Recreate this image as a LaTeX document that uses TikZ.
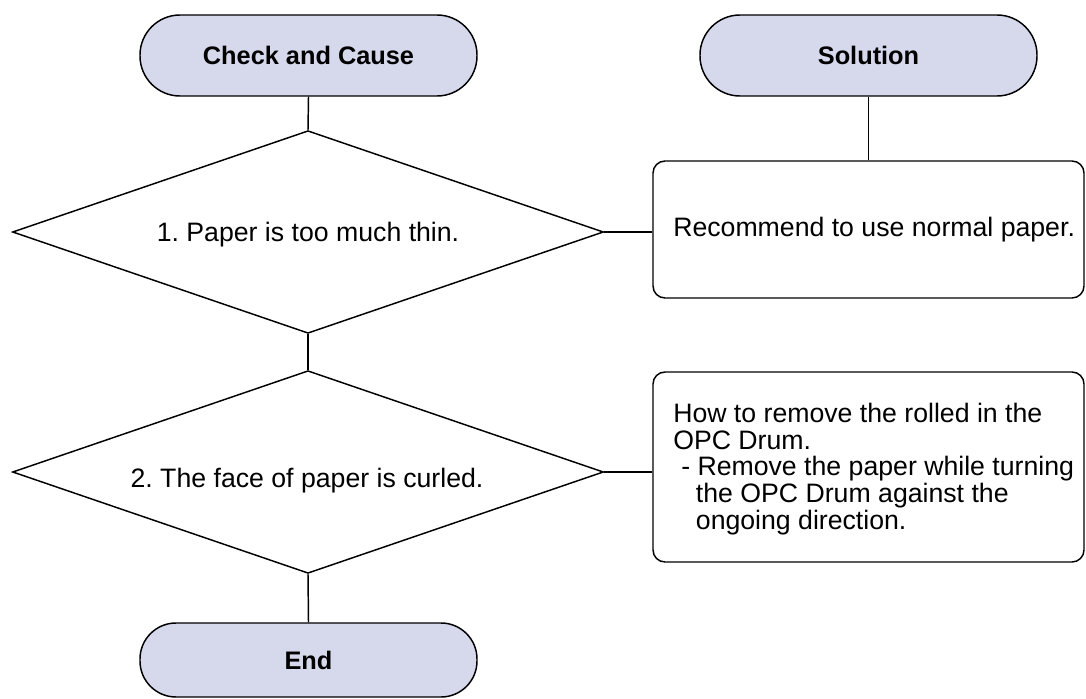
\documentclass[tikz,border=0pt]{standalone}
\usepackage{fontspec}
\setmainfont{Liberation Sans}
\frenchspacing
\usetikzlibrary{shapes.geometric}
\definecolor{pillfill}{RGB}{214,216,236}
\begin{document}
\begin{tikzpicture}[x=0.75pt,y=-0.75pt,
  every node/.style={font=\fontsize{20}{20}\selectfont},
  pill/.style={draw=black,line width=1.1pt,fill=pillfill,rounded corners=30pt,
    minimum width=252.75pt,minimum height=60.75pt,inner sep=0pt,
    font=\fontsize{19}{20}\selectfont\bfseries},
  decision/.style={draw=black,line width=1.1pt,diamond,inner sep=0pt,
    minimum width=443.25pt,minimum height=152pt},
  solbox/.style={draw=black,line width=1.1pt,rounded corners=9pt,
    minimum width=323.25pt,inner sep=0pt},
  soltext/.style={anchor=west,inner sep=0pt,align=left},
  link/.style={line width=1.1pt}]
\useasboundingbox (0,0) rectangle (1086,699);
\node[pill] (check) at (308.5,55.5) {Check and Cause};
\node[pill] (sol) at (868.5,55.5) {Solution};
\node[decision] (d1) at (308,232) {};
\node (t1) at (308,234.5) {1. Paper is too much thin.};
\node[decision] (d2) at (308,472) {};
\node (t2) at (307,481) {2. The face of paper is curled.};
\node[solbox,minimum height=102.75pt] (b1) at (868.5,229.5) {};
\node[soltext] (b1t) at (673,230) {Recommend to use normal paper.};
\node[solbox,minimum height=142.5pt] (b2) at (868.5,467) {};
\node[soltext] (b2t) at (673,469) {How to remove the rolled in the\\
OPC Drum.\\
\hspace*{0.3em}- Remove the paper while turning\\
\hspace*{0.85em}the OPC Drum against the\\
\hspace*{0.85em}ongoing direction.};
\node[pill,minimum height=55.5pt,rounded corners=27pt] (end) at (308.5,660) {End};
\draw[link] (check.south) -- (d1.north);
\draw[link] (sol.south) -- (b1.north);
\draw[link] (d1.east) -- (d1.east -| b1.west);
\draw[link] (d1.south) -- (d2.north);
\draw[link] (d2.east) -- (d2.east -| b2.west);
\draw[link] (d2.south) -- (end.north);
\end{tikzpicture}
\end{document}
